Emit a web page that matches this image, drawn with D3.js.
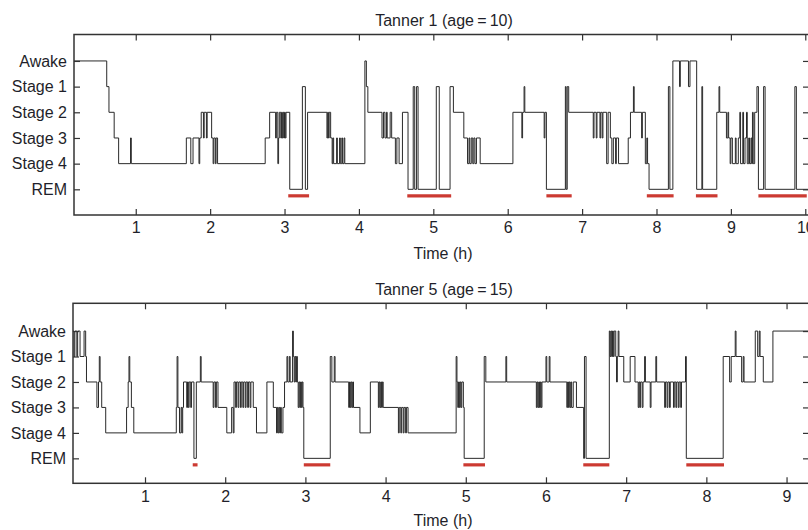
<!DOCTYPE html>
<html>
<head>
<meta charset="utf-8">
<script src="https://cdn.jsdelivr.net/npm/d3@7"></script>
<style>
  html, body { margin: 0; padding: 0; background: #fff; overflow: hidden; }
  svg { display: block; font-family: "Liberation Sans", Arial, Helvetica, sans-serif; }
  .tick text { fill: #1f1f2a; font-size: 16px; }
</style>
</head>
<body>
<svg id="chart" width="808" height="530"></svg>
<script>
// ---------- data ----------
const stageLabels = ["Awake", "Stage 1", "Stage 2", "Stage 3", "Stage 4", "REM"];
const stageIndex = [0, 1, 2, 3, 4, 5];

const title1 = "Tanner 1 (age\u2009=\u200910)";
const title5 = "Tanner 5 (age\u2009=\u200915)";
const xLabel = "Time (h)";

const xTicks1 = [1, 2, 3, 4, 5, 6, 7, 8, 9, 10];
const xTicks5 = [1, 2, 3, 4, 5, 6, 7, 8, 9];

// [time (h), stage index] — stage holds until next time
const tanner1 = [
  [0.17,0],[0.61,1],[0.64,2],[0.71,3],[0.77,4],
  [0.93,3],[0.94,4],
  [1.68,3],[1.74,4],[1.77,3],[1.85,4],[1.86,3],[1.88,2],[1.91,3],[1.92,2],[1.95,3],[1.96,2],[2.02,3],[2.04,4],[2.05,3],[2.07,4],[2.08,3],[2.10,4],
  [2.74,3],[2.80,2],[2.88,3],[2.89,2],[2.91,4],[2.92,3],[2.93,2],[2.95,3],[2.96,2],[2.97,3],[2.98,2],[2.99,3],[3.00,2],[3.01,3],[3.02,2],[3.07,5],[3.24,1],[3.28,5],[3.31,2],
  [3.57,3],[3.58,2],[3.59,3],[3.60,2],[3.62,3],[3.64,4],[3.65,3],[3.66,4],[3.70,3],[3.71,4],[3.74,3],[3.75,4],[3.77,3],[3.78,4],[3.80,3],[3.81,4],
  [4.08,0],[4.10,1],[4.12,2],
  [4.31,3],[4.33,2],[4.35,3],[4.37,2],[4.38,3],[4.42,2],[4.44,3],[4.49,4],[4.51,3],[4.54,4],[4.585,2],[4.66,5],
  [4.73,1],[4.75,5],[4.775,1],[4.795,5],[5.04,1],[5.08,5],[5.225,1],[5.27,2],
  [5.41,3],[5.46,4],[5.48,3],[5.49,4],[5.51,3],[5.53,4],[5.545,3],[5.56,4],[5.58,3],[5.63,4],
  [6.07,2],[6.19,3],[6.20,2],[6.22,1],[6.23,2],[6.49,3],[6.50,2],[6.52,5],[6.775,1],[6.785,5],[6.80,1],[6.82,2],
  [7.15,3],[7.16,2],[7.19,3],[7.20,2],
  [7.24,3],[7.25,2],[7.27,3],[7.28,2],[7.33,4],[7.35,2],[7.38,3],[7.40,4],[7.42,3],[7.45,4],[7.46,3],[7.49,4],[7.62,3],[7.65,2],[7.69,1],[7.70,2],[7.80,3],[7.81,2],[7.85,4],[7.87,3],[7.88,4],[7.90,5],
  [8.16,1],[8.18,5],[8.22,0],[8.31,1],[8.32,0],[8.43,1],[8.45,0],[8.54,5],[8.61,1],[8.62,5],[8.81,2],[8.84,1],[8.85,2],
  [8.94,3],[8.96,2],[8.97,3],[8.99,4],[9.00,3],[9.02,4],[9.06,3],[9.07,4],[9.10,3],[9.12,2],[9.13,4],[9.16,2],[9.17,4],[9.19,3],[9.21,2],[9.22,4],[9.24,3],[9.25,4],[9.27,3],[9.28,4],[9.29,2],[9.30,4],[9.32,2],[9.35,1],[9.37,5],
  [9.44,1],[9.46,5],[9.86,1],[9.88,5],[10.05,5]
];

const tanner5 = [
  [0.10,0],[0.115,1],[0.125,0],[0.15,1],[0.16,0],[0.19,1],[0.24,0],[0.26,1],[0.27,2],[0.40,3],[0.42,2],[0.43,1],[0.44,2],[0.46,3],[0.51,4],
  [0.77,3],[0.79,2],[0.80,1],[0.81,2],[0.83,3],[0.86,4],
  [1.39,3],[1.40,1],[1.41,3],[1.43,4],[1.45,3],[1.46,4],[1.47,3],[1.48,2],[1.52,3],[1.53,2],[1.54,3],[1.55,2],[1.57,3],[1.58,2],[1.61,5],[1.64,2],[1.69,1],[1.70,2],
  [1.85,3],[1.86,2],[1.88,3],[1.89,2],[1.91,3],[2.02,4],[2.08,3],[2.10,4],[2.11,2],[2.13,3],[2.14,2],[2.16,3],[2.17,2],[2.19,3],[2.20,2],[2.22,3],[2.23,2],[2.25,3],[2.26,2],[2.28,3],[2.29,2],[2.31,3],[2.32,2],[2.35,3],[2.39,4],[2.52,2],
  [2.60,3],[2.64,4],[2.65,3],[2.66,4],[2.67,3],[2.68,4],[2.69,3],[2.70,4],[2.72,3],[2.74,2],
  [2.77,1],[2.78,2],[2.80,1],[2.81,2],[2.84,0],[2.85,1],[2.86,2],[2.87,1],[2.88,2],[2.89,1],[2.90,2],[2.91,3],[2.92,2],[2.93,3],[2.94,2],[2.95,3],[2.96,2],[2.97,3],[2.98,5],
  [3.31,1],[3.33,2],[3.36,1],[3.37,2],[3.54,3],[3.55,2],[3.56,3],[3.57,2],[3.58,3],[3.59,2],[3.60,3],[3.68,4],[3.81,2],
  [3.91,3],[3.92,2],[3.93,3],[3.94,2],[3.95,3],[3.96,2],[3.97,3],[4.16,4],[4.17,3],[4.19,4],[4.20,3],[4.22,4],[4.23,3],[4.25,4],[4.26,3],[4.28,4],
  [4.88,1],[4.89,2],[4.90,3],[4.91,2],[4.92,3],[4.93,2],[4.94,3],[4.95,2],[4.97,3],[4.98,5],[5.23,1],[5.25,2],[5.50,1],[5.51,2],
  [5.88,3],[5.89,2],[5.90,3],[5.91,2],[5.92,3],[5.93,2],[5.94,3],[5.95,2],[6.00,1],[6.01,2],[6.04,1],[6.05,2],
  [6.26,3],[6.27,2],[6.28,3],[6.29,2],[6.30,3],[6.31,2],[6.32,3],[6.34,2],[6.38,3],[6.47,5],[6.48,1],[6.50,5],
  [6.79,0],[6.80,1],[6.81,0],[6.82,1],[6.83,0],[6.84,1],[6.85,0],[6.87,1],[6.88,2],[6.89,1],[6.90,0],[6.91,1],[6.97,2],[7.05,1],[7.11,2],
  [7.15,3],[7.16,2],[7.17,3],[7.18,2],[7.20,3],[7.21,2],[7.23,1],[7.24,2],[7.30,3],[7.31,2],[7.37,1],[7.38,2],
  [7.48,3],[7.49,2],[7.51,3],[7.52,2],[7.54,3],[7.55,2],[7.59,3],[7.60,2],[7.62,3],[7.63,2],[7.65,3],[7.66,2],[7.68,3],[7.69,2],[7.74,1],[7.75,5],
  [8.21,1],[8.29,2],[8.31,1],[8.36,0],[8.37,1],[8.44,2],[8.46,1],[8.47,2],[8.61,0],[8.64,1],[8.66,0],[8.67,1],[8.71,2],[8.83,0],[9.28,0]
];

// REM periods marked below the REM line [start, end]
const remBars1 = [[3.05,3.33],[4.65,5.24],[6.52,6.86],[7.87,8.23],[8.53,8.82],[9.37,10.02]];
const remBars5 = [[1.595,1.655],[2.98,3.31],[4.97,5.24],[6.465,6.79],[7.75,8.22]];

// ---------- drawing ----------
const svg = d3.select("#chart");

function panel(cfg) {
  const x = d3.scaleLinear().domain(cfg.xDomain).range([cfg.left, cfg.right]);
  const y = d3.scaleLinear().domain(cfg.yDomain).range([cfg.top, cfg.bottom]);
  const g = svg.append("g");

  // hypnogram
  const line = d3.line().x(d => x(d[0])).y(d => y(d[1])).curve(d3.curveStepAfter);
  g.append("path").datum(cfg.data)
    .attr("fill", "none").attr("stroke", "#2a2a2a").attr("stroke-width", 1)
    .attr("stroke-linejoin", "miter")
    .attr("d", line);

  // REM bars
  g.selectAll("line.rem").data(cfg.rem).enter().append("line")
    .attr("class", "rem")
    .attr("x1", d => x(d[0])).attr("x2", d => x(d[1]))
    .attr("y1", y(5) + 6.5).attr("y2", y(5) + 6.5)
    .attr("stroke", "#cc3a32").attr("stroke-width", 3.2);

  // axes (inward ticks)
  const axB = g.append("g").attr("transform", `translate(0,${cfg.bottom})`)
    .call(d3.axisBottom(x).tickValues(cfg.xTicks).tickSize(-6).tickPadding(7).tickFormat(d3.format("d")));
  const axT = g.append("g").attr("transform", `translate(0,${cfg.top})`)
    .call(d3.axisTop(x).tickValues(cfg.xTicks).tickSize(-6).tickFormat(""));
  const axL = g.append("g").attr("transform", `translate(${cfg.left},0)`)
    .call(d3.axisLeft(y).tickValues(stageIndex).tickSize(-6).tickPadding(7).tickFormat(i => stageLabels[i]));
  const axR = g.append("g").attr("transform", `translate(${cfg.right},0)`)
    .call(d3.axisRight(y).tickValues(stageIndex).tickSize(-6).tickFormat(""));
  [axB, axT, axL, axR].forEach(a => {
    a.select(".domain").remove();
    a.selectAll(".tick line").attr("stroke", "#333").attr("stroke-width", 1.2);
    a.selectAll(".tick text").attr("font-family", null);
  });
  axB.selectAll(".tick text").attr("font-size", 16);
  axL.selectAll(".tick text").attr("font-size", 16);

  // frame
  g.append("rect")
    .attr("x", cfg.left).attr("y", cfg.top)
    .attr("width", cfg.right - cfg.left).attr("height", cfg.bottom - cfg.top)
    .attr("fill", "none").attr("stroke", "#333").attr("stroke-width", 1.5);

  // title and x label
  g.append("text").attr("x", cfg.titleX).attr("y", cfg.titleY)
    .attr("text-anchor", "middle").attr("font-size", 16).attr("fill", "#1f1f2a")
    .text(cfg.title);
  g.append("text").attr("x", cfg.titleX - 1).attr("y", cfg.xlabY)
    .attr("text-anchor", "middle").attr("font-size", 16).attr("fill", "#1f1f2a")
    .text(xLabel);
}

panel({
  data: tanner1, rem: remBars1, xTicks: xTicks1, title: title1,
  xDomain: [0.17, 10.05], yDomain: [-1.03, 6],
  left: 74, right: 809, top: 34.5, bottom: 215,
  titleX: 444, titleY: 26, xlabY: 259
});

panel({
  data: tanner5, rem: remBars5, xTicks: xTicks5, title: title5,
  xDomain: [0.102, 9.28], yDomain: [-1.09, 5.98],
  left: 73, right: 809, top: 303.3, bottom: 483.3,
  titleX: 444, titleY: 294.5, xlabY: 525.5
});
</script>
</body>
</html>
